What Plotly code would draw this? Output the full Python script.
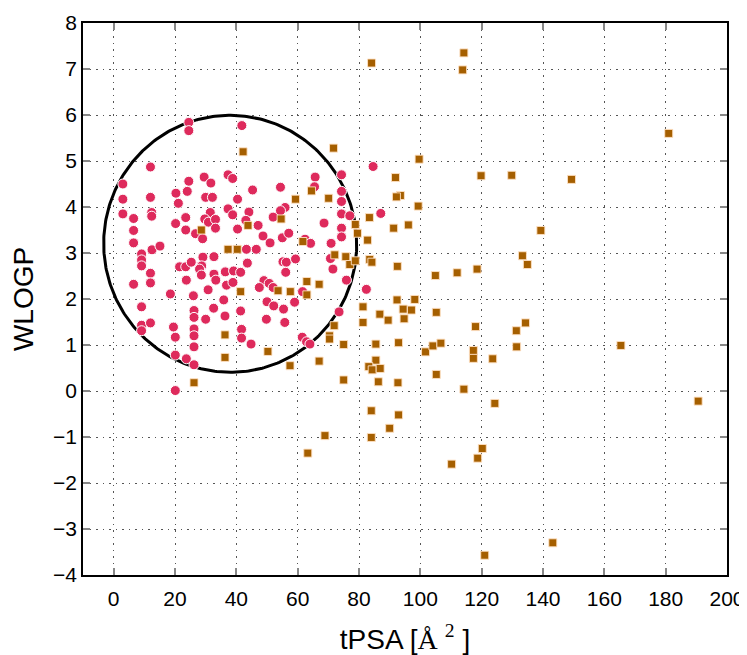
import numpy as np
import plotly.graph_objects as go

# Red circles (inside region)
red_x = [24.5, 24.5, 12.0, 3.0, 3.0, 12.0, 3.0, 6.5, 6.5, 6.5, 12.4, 12.4, 12.5, 15.1, 20.3, 21.1, 24.5, 24.0,
         20.2, 23.5, 23.5, 26.7, 29.0, 29.5, 31.7, 30.0, 32.2, 31.5, 29.7, 30.9, 33.2, 33.2,
         9.1, 9.1, 9.1, 12.0, 6.5, 12.0, 18.5, 21.5, 23.5, 25.3, 29.1, 28.7, 28.0, 28.6, 23.7, 26.0,
         30.8, 32.7, 32.7, 33.3, 9.1, 26.2, 26.2, 30.0, 32.6, 9.1, 9.1, 12.0, 19.5, 20.1, 26.2, 26.2,
         26.2, 20.1, 23.7, 26.2, 20.1,
         41.8, 37.3, 38.8, 45.3, 54.4, 40.4, 65.7, 65.5, 74.3, 74.3, 74.3, 74.3, 77.0, 74.3, 74.3,
         70.9, 68.6, 55.9, 54.4, 52.0, 44.1, 43.1, 47.1, 40.4, 37.3, 38.8, 48.7, 51.0, 55.0, 57.1,
         62.4, 64.2, 43.3, 46.5,
         43.6, 55.2, 56.3, 59.3, 56.1, 36.4, 39.1, 41.4, 36.8, 38.9, 49.0, 50.7, 52.0, 47.5, 61.6,
         35.9, 50.0, 52.2, 55.4, 59.0, 41.4, 36.3, 49.8, 55.8, 73.5, 41.7, 41.7, 44.8, 61.5, 62.9,
         64.0, 70.7, 71.5, 75.9,
         84.6, 87.1, 82.4]
red_y = [5.84, 5.66, 4.87, 4.50, 4.17, 4.21, 3.85, 3.75, 3.49, 3.22, 3.88, 3.80, 3.07, 3.15, 4.30, 4.08, 4.56, 4.34,
         3.64, 3.77, 3.50, 3.42, 3.31, 4.65, 4.52, 4.21, 4.21, 3.88, 3.74, 3.67, 3.73, 3.54,
         2.98, 2.85, 2.72, 2.56, 2.32, 2.35, 2.11, 2.70, 2.70, 2.80, 2.91, 2.72, 2.65, 2.52, 2.41, 2.07,
         2.20, 2.92, 2.54, 2.41, 1.83, 1.75, 1.60, 1.56, 1.80, 1.43, 1.31, 1.48, 1.39, 1.17, 1.35, 1.20,
         0.96, 0.78, 0.70, 0.57, 0.01,
         5.77, 4.70, 4.62, 4.37, 4.43, 4.17, 4.65, 4.44, 4.70, 4.34, 4.12, 3.85, 3.81, 3.54, 3.35,
         3.21, 3.65, 3.99, 3.92, 3.78, 3.89, 3.71, 3.60, 3.52, 3.96, 3.83, 3.37, 3.22, 3.33, 3.43,
         3.30, 3.21, 3.08, 3.08,
         2.78, 2.81, 2.80, 2.87, 2.58, 2.59, 2.61, 2.58, 2.30, 2.36, 2.40, 2.34, 2.25, 2.25, 2.16,
         1.98, 1.94, 1.85, 1.78, 1.93, 1.74, 1.63, 1.56, 1.49, 1.72, 1.34, 1.15, 1.02, 1.17, 1.07,
         1.02, 2.88, 2.65, 2.41,
         4.88, 3.86, 2.21]

# Brown squares
sq_x = [28.6, 26.2, 42.2, 71.7, 59.3, 64.5, 70.1, 78.8, 79.5, 54.6, 43.8, 61.7, 37.3, 40.3, 41.4, 53.6,
        57.6, 63.0, 63.0, 67.0, 71.9, 36.3, 70.4, 70.4, 75.0, 50.3, 36.3, 67.0, 57.5, 75.0,
        99.6, 119.8, 91.9, 93.5, 92.2, 99.3, 83.4, 91.3, 96.1, 82.8, 75.7, 77.0, 78.8, 83.5, 84.2,
        92.5, 104.9, 112.0, 118.5, 92.4, 98.2, 72.1,
        81.3, 94.4, 97.1, 86.8, 89.5, 94.7, 105.2, 118.0, 81.3, 85.5, 92.9, 101.7, 104.1, 106.7,
        117.3, 117.3, 123.6, 124.3, 85.5, 83.2, 84.3, 86.9, 86.3, 92.7, 105.2, 114.2, 84.0, 92.9,
        90.0, 68.9, 84.0, 120.2,
        129.8, 149.3, 139.3, 133.3, 134.9, 134.3, 131.3, 131.4, 165.4, 190.6,
        84.1, 113.8, 114.2, 181.0, 118.7, 110.2, 121.0, 143.2, 63.3]
sq_y = [3.50, 0.18, 5.20, 5.28, 4.17, 4.35, 4.19, 3.62, 3.43, 3.74, 3.60, 3.25, 3.08, 3.08, 2.16, 2.18,
        2.16, 2.38, 2.09, 2.32, 1.42, 1.22, 1.20, 1.13, 1.01, 0.86, 0.73, 0.65, 0.55, 0.24,
        5.04, 4.68, 4.64, 4.25, 4.22, 4.02, 3.77, 3.54, 3.61, 3.28, 2.92, 2.75, 2.83, 2.86, 2.80,
        2.71, 2.51, 2.57, 2.65, 1.98, 1.99, 2.96,
        1.83, 1.78, 1.76, 1.67, 1.54, 1.57, 1.71, 1.40, 1.49, 1.02, 1.05, 0.85, 0.98, 1.04,
        0.88, 0.71, 0.70, -0.27, 0.67, 0.53, 0.46, 0.49, 0.20, 0.18, 0.36, 0.04, -0.43, -0.52,
        -0.81, -0.97, -1.01, -1.25,
        4.69, 4.60, 3.49, 2.94, 2.75, 1.48, 1.31, 0.96, 0.99, -0.22,
        7.13, 6.98, 7.35, 5.60, -1.46, -1.59, -3.57, -3.30, -1.35]

x_ticks = list(range(0, 201, 20))
y_ticks = list(range(-4, 9, 1))
x_range = [-10, 200]
y_range = [-4, 8]

# Ellipse parameters (centre in data units, radii/angle in screen pixels)
ell_cx, ell_cy = 38.0, 3.2
ell_rx_px, ell_ry_px = 126.5, 128.5
ell_angle_deg = 4.0

# page body has an 8px margin, so the figure is sized/offset to compensate
W, H = 739, 647
ML, MR, MT, MB = 75, 20, 15, 80
px_per_x = (W - ML - MR) / (x_range[1] - x_range[0])
px_per_y = (H - MT - MB) / (y_range[1] - y_range[0])
t = np.linspace(0, 2 * np.pi, 400)
th = np.deg2rad(ell_angle_deg)
ex = ell_cx + (ell_rx_px * np.cos(t) * np.cos(th) - ell_ry_px * np.sin(t) * np.sin(th)) / px_per_x
ey = ell_cy + (ell_rx_px * np.cos(t) * np.sin(th) + ell_ry_px * np.sin(t) * np.cos(th)) / px_per_y

fig = go.Figure()
fig.add_trace(go.Scatter(x=ex, y=ey, mode="lines", line=dict(color="black", width=3),
                         hoverinfo="skip", showlegend=False))
fig.add_trace(go.Scatter(x=red_x, y=red_y, mode="markers", showlegend=False,
                         marker=dict(symbol="circle", size=10, color="#DE2A5C",
                                     line=dict(color="white", width=1))))
fig.add_trace(go.Scatter(x=sq_x, y=sq_y, mode="markers", showlegend=False,
                         marker=dict(symbol="square", size=8, color="#A55F00",
                                     line=dict(color="rgba(255,225,195,0.9)", width=1))))

FONT = "Liberation Sans, Arial, Helvetica, sans-serif"
grid = dict(showgrid=True, gridcolor="#555555", gridwidth=1, griddash="1.5px,5px",
            zeroline=False, showline=True, linecolor="black", linewidth=1.5, mirror="ticks",
            ticks="inside", ticklen=7, tickcolor="#888888", tickwidth=1.5, automargin=False,
            tickfont=dict(family=FONT, size=21, color="black"))

fig.update_layout(
    width=W, height=H,
    margin=dict(l=ML, r=MR, t=MT, b=MB, autoexpand=False),
    paper_bgcolor="white", plot_bgcolor="white",
    font=dict(family=FONT, color="black"),
    xaxis=dict(range=x_range, tickvals=x_ticks, ticktext=[str(v) for v in x_ticks],
               ticklabelstandoff=4,
               title=dict(text="tPSA [<span style='font-family:Liberation Serif, Times New Roman, serif'>Å <sup>2</sup></span> ]",
                          font=dict(family=FONT, size=28), standoff=26),
               **grid),
    yaxis=dict(range=y_range, tickvals=y_ticks, ticktext=[("\u2212" + str(-v)) if v < 0 else str(v) for v in y_ticks],
               ticklabelstandoff=0,
               title=dict(text="WLOGP", font=dict(family=FONT, size=28), standoff=19),
               **grid),
)

fig.write_html("out.html")
